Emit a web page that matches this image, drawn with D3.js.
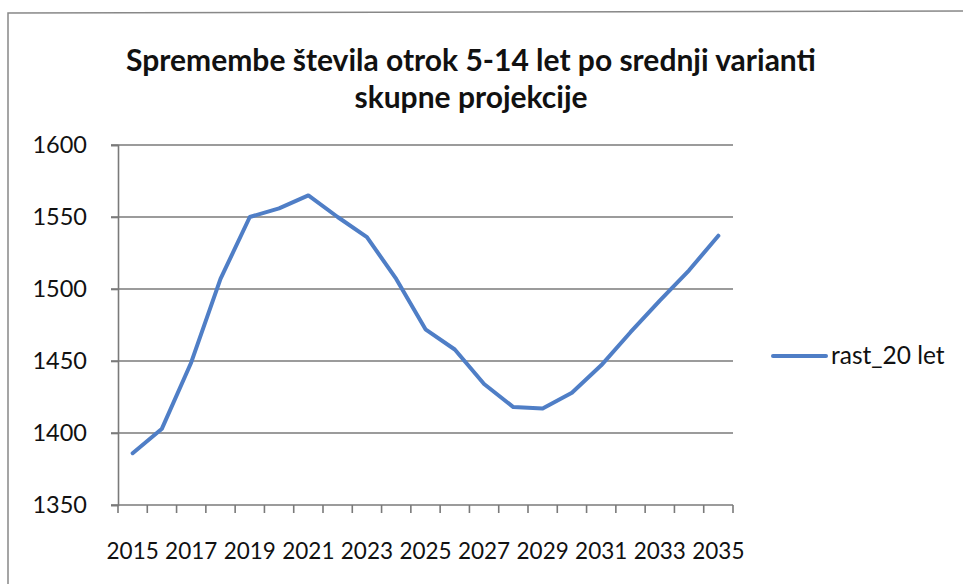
<!DOCTYPE html>
<html><head><meta charset="utf-8">
<script src="https://cdn.jsdelivr.net/npm/d3@7"></script>
<style>body{margin:0;background:#fff}svg{display:block}</style>
</head><body>
<svg id="c" width="963" height="584"></svg>
<script>
const years = d3.range(2015, 2036).map(String);
const values = [1386, 1403, 1449, 1507, 1550, 1556, 1565, 1550, 1536, 1507, 1472, 1458, 1434, 1418, 1417, 1428, 1447, 1470, 1492, 1513, 1537];
const yTicks = [1350, 1400, 1450, 1500, 1550, 1600];
const xLabels = ["2015","2017","2019","2021","2023","2025","2027","2029","2031","2033","2035"];
const seriesName = "rast_20 let";
const titleLines = ["Spremembe števila otrok 5-14 let po srednji varianti", "skupne projekcije"];

const svg = d3.select("#c");
const font = "Lato, 'Open Sans', sans-serif";
const m = {l:118, r:733, t:145, b:505};

// outer frame (left & top)
svg.append("path").attr("d","M8,584 L8,13 L963,11").attr("fill","none").attr("stroke","#888").attr("stroke-width",1.5);

const x = d3.scaleBand().domain(years).range([m.l, m.r]).padding(0);
const y = d3.scaleLinear().domain([1350,1600]).range([m.b, m.t]);

// gridlines
svg.append("g").selectAll("line").data(yTicks.slice(1)).join("line")
  .attr("x1", m.l-7).attr("x2", m.r).attr("y1", d=>y(d)).attr("y2", d=>y(d))
  .attr("stroke","#7a7a7a").attr("stroke-width",1.6);

// y axis
const ya = svg.append("g").attr("transform",`translate(${m.l},0)`)
  .call(d3.axisLeft(y).tickValues(yTicks).tickSize(7).tickPadding(24).tickFormat(d3.format("d")));
ya.select(".domain").attr("stroke","#7a7a7a").attr("stroke-width",1.6);
ya.selectAll(".tick line").attr("stroke","#7a7a7a").attr("stroke-width",1.6);
ya.selectAll("text").attr("font-family",font).attr("font-size",23.5).attr("fill","#111");

// x axis line
svg.append("line").attr("x1",m.l-7).attr("x2",m.r).attr("y1",m.b).attr("y2",m.b).attr("stroke","#7a7a7a").attr("stroke-width",1.6);
// x ticks at category boundaries
const bounds = years.map(d=>x(d)).concat([x(years[years.length-1])+x.bandwidth()]);
svg.append("g").selectAll("line").data(bounds).join("line")
  .attr("x1",d=>d).attr("x2",d=>d).attr("y1",m.b).attr("y2",m.b+8)
  .attr("stroke","#7a7a7a").attr("stroke-width",1.6);
// x labels
svg.append("g").selectAll("text").data(xLabels).join("text")
  .attr("x",d=>x(d)+x.bandwidth()/2).attr("y",559)
  .attr("text-anchor","middle").attr("font-family",font).attr("font-size",22.5).attr("fill","#111")
  .text(d=>d);

// line
const line = d3.line().x((d,i)=>x(years[i])+x.bandwidth()/2).y(d=>y(d));
svg.append("path").datum(values).attr("d",line).attr("fill","none")
  .attr("stroke","#4F7EC6").attr("stroke-width",4).attr("stroke-linejoin","round").attr("stroke-linecap","round");

// title
svg.append("g").selectAll("text").data(titleLines).join("text")
  .attr("x",471).attr("y",(d,i)=>71+i*37).attr("text-anchor","middle")
  .attr("font-family",font).attr("font-weight","bold").attr("font-size",30).attr("fill","#111")
  .text(d=>d);

// legend
svg.append("line").attr("x1",773).attr("x2",826).attr("y1",356).attr("y2",356)
  .attr("stroke","#4F7EC6").attr("stroke-width",4).attr("stroke-linecap","round");
svg.append("text").attr("x",831).attr("y",364).attr("font-family",font).attr("font-size",24.5).attr("fill","#111").text(seriesName);
</script>
</body></html>
